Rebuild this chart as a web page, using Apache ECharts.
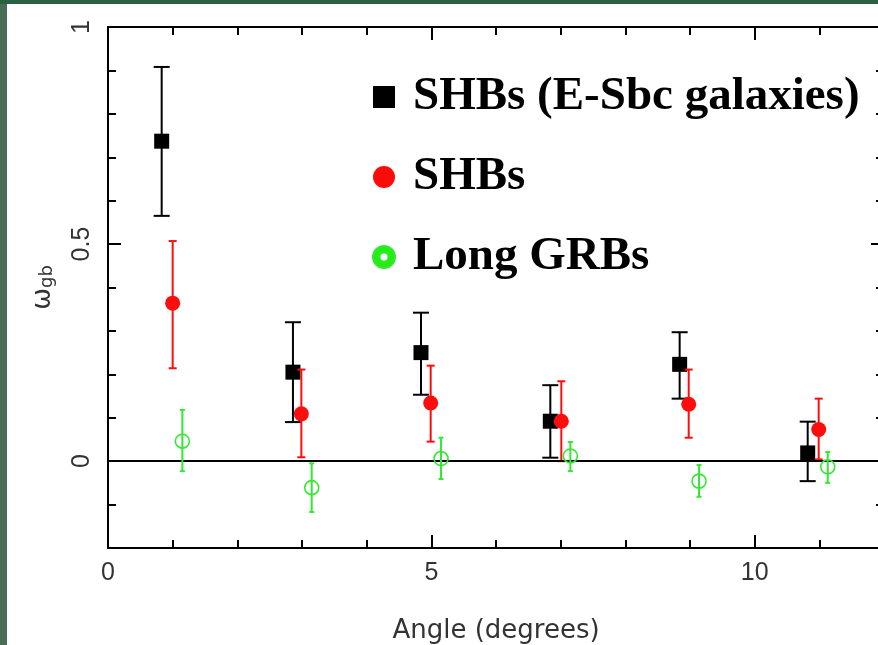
<!DOCTYPE html>
<html>
<head>
<meta charset="utf-8">
<script src="https://cdn.jsdelivr.net/npm/echarts@6/dist/echarts.min.js"></script>
<style>
  html, body { margin: 0; padding: 0; }
  body { width: 878px; height: 645px; background: #476e52; position: relative; overflow: hidden; }
  #topstrip { position: absolute; left: 0; top: 0; width: 878px; height: 4px; background: #2b6142; }
  #chart { position: absolute; left: 7px; top: 4px; width: 871px; height: 641px; background: #ffffff; }
</style>
</head>
<body>
<div id="topstrip"></div>
<div id="chart"></div>
<script>
// ---- data ----
const seriesNames = ['SHBs (E-Sbc galaxies)', 'SHBs', 'Long GRBs'];

const angleBlack = [0.83, 2.86, 4.84, 6.84, 8.84, 10.82];
const wBlack     = [0.737, 0.205, 0.250, 0.092, 0.223, 0.019];
const loBlack    = [0.565, 0.090, 0.153, 0.008, 0.144, -0.046];
const hiBlack    = [0.908, 0.320, 0.342, 0.175, 0.297, 0.091];

const angleRed = [1.00, 2.99, 4.99, 7.01, 8.98, 10.99];
const wRed     = [0.364, 0.109, 0.134, 0.092, 0.131, 0.073];
const loRed    = [0.214, 0.009, 0.045, 0.000, 0.054, 0.004];
const hiRed    = [0.507, 0.211, 0.220, 0.184, 0.211, 0.144];

const angleGreen = [1.15, 3.15, 5.15, 7.15, 9.14, 11.13];
const wGreen     = [0.046, -0.061, 0.006, 0.012, -0.046, -0.013];
const loGreen    = [-0.023, -0.117, -0.041, -0.023, -0.082, -0.050];
const hiGreen    = [0.118, -0.005, 0.054, 0.044, -0.009, 0.021];

const xMajorTicks = [0, 5, 10];
const xMinorTicks = [1, 2, 3, 4, 6, 7, 8, 9, 11];
const yMajorTicks = [0, 0.5, 1];
const yMinorTicks = [-0.1, 0.1, 0.2, 0.3, 0.4, 0.6, 0.7, 0.8, 0.9];

// ---- build ----
const BLACK = '#000000', RED = '#ff0d0d', GREEN = '#33e833';
const pts = (xs, ys) => xs.map((x, i) => [x, ys[i]]);
const errs = (xs, lo, hi) => xs.map((x, i) => [x, lo[i], hi[i]]);

function errRender(capW, color) {
  return function (params, api) {
    const x = api.value(0), lo = api.value(1), hi = api.value(2);
    const a = api.coord([x, lo]), b = api.coord([x, hi]);
    const h = capW / 2;
    const st = { stroke: color, lineWidth: 2 };
    return {
      type: 'group',
      children: [
        { type: 'line', shape: { x1: a[0], y1: a[1], x2: b[0], y2: b[1] }, style: st },
        { type: 'line', shape: { x1: b[0] - h, y1: b[1], x2: b[0] + h, y2: b[1] }, style: st },
        { type: 'line', shape: { x1: a[0] - h, y1: a[1], x2: a[0] + h, y2: a[1] }, style: st }
      ]
    };
  };
}

const lineSt = { color: BLACK, width: 2 };
const labelFont = { fontFamily: 'Liberation Sans', fontSize: 25, color: '#333' };

function xAx(pos, ticks, len, opts) {
  return Object.assign({
    type: 'value', min: 0, max: 12, position: pos,
    axisLine: { show: false, onZero: false, lineStyle: lineSt },
    axisTick: { show: true, inside: true, length: len, lineStyle: lineSt, customValues: ticks },
    axisLabel: { show: false },
    splitLine: { show: false }
  }, opts || {});
}
function yAx(pos, ticks, len, opts) {
  return Object.assign({
    type: 'value', min: -0.2, max: 1, position: pos,
    axisLine: { show: false, onZero: false, lineStyle: lineSt },
    axisTick: { show: true, inside: true, length: len, lineStyle: lineSt, customValues: ticks },
    axisLabel: { show: false },
    splitLine: { show: false }
  }, opts || {});
}

const chart = echarts.init(document.getElementById('chart'), null, { renderer: 'canvas' });
chart.setOption({
  animation: false,
  backgroundColor: '#ffffff',
  grid: { left: 101, top: 23, right: -6, bottom: 97, containLabel: false, outerBoundsMode: 'none' },
  legend: {
    orient: 'vertical', left: 360, top: 64,
    itemWidth: 22, itemHeight: 22, itemGap: 32,
    selectedMode: false,
    textStyle: { fontFamily: 'Liberation Serif', fontWeight: 'bold', fontSize: 47, lineHeight: 48, color: '#000', padding: [0, 0, 0, 13] },
    data: [
      { name: seriesNames[0], icon: 'rect', itemStyle: { color: BLACK, opacity: 1 } },
      { name: seriesNames[1], icon: 'circle', itemStyle: { color: '#ff0a0a', opacity: 1 } },
      { name: seriesNames[2], icon: 'path://M11,0A11,11,0,1,1,11,22A11,11,0,1,1,11,0ZM11,6.5A4.5,4.5,0,1,0,11,15.5A4.5,4.5,0,1,0,11,6.5Z', itemStyle: { color: '#22ee11', opacity: 1 } }
    ]
  },
  xAxis: [
    xAx('bottom', xMajorTicks, 13, {
      axisLine: { show: true, onZero: false, lineStyle: lineSt },
      axisLabel: Object.assign({ show: true, margin: 13, customValues: xMajorTicks }, labelFont),
      name: 'Angle (degrees)', nameLocation: 'middle', nameGap: 70,
      nameTextStyle: { fontFamily: 'DejaVu Sans', fontSize: 26, color: '#333' }
    }),
    xAx('bottom', xMinorTicks, 8),
    xAx('top', xMajorTicks, 13, { axisLine: { show: true, onZero: false, lineStyle: lineSt } }),
    xAx('top', xMinorTicks, 8)
  ],
  yAxis: [
    yAx('left', yMajorTicks, 13, {
      axisLine: { show: true, onZero: false, lineStyle: lineSt },
      axisLabel: Object.assign({ show: true, margin: 13, rotate: 90, customValues: yMajorTicks }, labelFont),
      name: '{w|ω}{s|gb}', nameLocation: 'middle', nameGap: 52, nameRotate: 90,
      nameTextStyle: {
        rich: {
          w: { fontFamily: 'DejaVu Sans', fontSize: 26, color: '#333', lineHeight: 26, verticalAlign: 'top' },
          s: { fontFamily: 'DejaVu Sans', fontSize: 18, color: '#333', lineHeight: 18, padding: [12, 0, 0, 0], verticalAlign: 'bottom' }
        }
      }
    }),
    yAx('left', yMinorTicks, 8),
    yAx('right', yMajorTicks, 13, { axisLine: { show: true, onZero: false, lineStyle: lineSt } }),
    yAx('right', yMinorTicks, 8)
  ],
  series: [
    {
      name: 'errBlack', type: 'custom', renderItem: errRender(16, BLACK),
      encode: { x: 0, y: [1, 2] }, data: errs(angleBlack, loBlack, hiBlack), z: 2, silent: true
    },
    {
      name: seriesNames[0], type: 'scatter', symbol: 'rect', symbolSize: 15,
      itemStyle: { color: BLACK, opacity: 1 }, data: pts(angleBlack, wBlack), z: 3,
      markLine: {
        silent: true, symbol: ['none', 'none'], label: { show: false },
        lineStyle: { color: BLACK, width: 2, type: 'solid', opacity: 1 },
        data: [{ yAxis: 0 }]
      }
    },
    {
      name: 'errRed', type: 'custom', renderItem: errRender(8, RED),
      encode: { x: 0, y: [1, 2] }, data: errs(angleRed, loRed, hiRed), z: 4, silent: true
    },
    {
      name: seriesNames[1], type: 'scatter', symbol: 'circle', symbolSize: 15,
      itemStyle: { color: RED, opacity: 1 }, data: pts(angleRed, wRed), z: 5
    },
    {
      name: 'errGreen', type: 'custom', renderItem: errRender(5, GREEN),
      encode: { x: 0, y: [1, 2] }, data: errs(angleGreen, loGreen, hiGreen), z: 6, silent: true
    },
    {
      name: seriesNames[2], type: 'scatter', symbol: 'circle', symbolSize: 14,
      itemStyle: { color: 'rgba(0,0,0,0)', borderColor: GREEN, borderWidth: 1.6, opacity: 1 },
      data: pts(angleGreen, wGreen), z: 7
    }
  ]
});
</script>
</body>
</html>
